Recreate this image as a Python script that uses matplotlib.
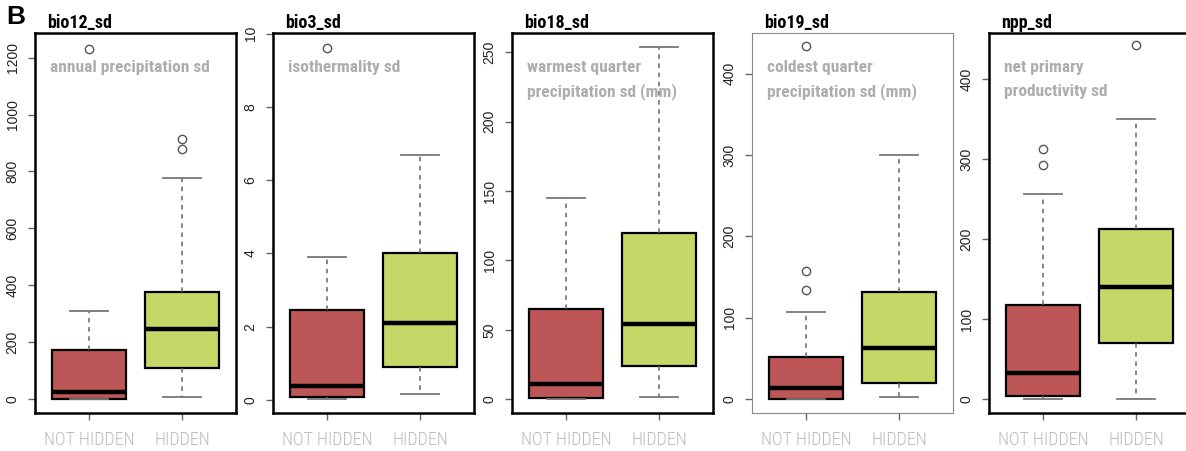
import numpy as np
import matplotlib.pyplot as plt

# Panel titles and grey notes
titles = ['bio12_sd', 'bio3_sd', 'bio18_sd', 'bio19_sd', 'npp_sd']
notes = [
    ['annual precipitation sd'],
    ['isothermality sd'],
    ['warmest quarter', 'precipitation sd (mm)'],
    ['coldest quarter', 'precipitation sd (mm)'],
    ['net primary', 'productivity sd'],
]
groups = ['NOT HIDDEN', 'HIDDEN']

# box stats: whislo, q1, median, q3, whishi
not_hidden = [
    [0, 1, 23, 173, 308],
    [0.02, 0.09, 0.38, 2.44, 3.89],
    [0, 0.7, 10.6, 64.8, 145.3],
    [0, 0, 14, 52, 107],
    [0, 4, 33, 117, 256],
]
hidden = [
    [7, 108, 247, 377, 776],
    [0.16, 0.89, 2.11, 4.0, 6.68],
    [1.4, 23.9, 54.5, 120, 253.8],
    [2, 20, 63, 132, 300],
    [0, 70, 140, 213, 350],
]
not_hidden_out = [[1232], [9.61], [], [134, 157, 434], [292, 312]]
hidden_out = [[880, 915], [], [], [], [442]]

yticks = [np.arange(0, 1201, 200), np.arange(0, 11, 2), np.arange(0, 251, 50),
          np.arange(0, 401, 100), np.arange(0, 401, 100)]
ylims = [(-50, 1287), (-0.36, 10.02), (-10, 264), (-17.3, 450), (-17.6, 457.6)]

colors = ['#BD5757', '#C5D766']
narrow = ['Roboto Condensed', 'Liberation Sans Narrow', 'Roboto']

W, H = 1186, 451
fig = plt.figure(figsize=(W / 100, H / 100), dpi=100)

lefts = [35, 273, 512, 752, 989]
for i in range(5):
    ax = fig.add_axes([lefts[i] / W, 38 / H, 201 / W, 380 / H])
    stats = []
    for s, out in [(not_hidden[i], not_hidden_out[i]), (hidden[i], hidden_out[i])]:
        stats.append(dict(whislo=s[0], q1=s[1], med=s[2], q3=s[3], whishi=s[4], fliers=out))
    bp = ax.bxp(stats, positions=[1, 2], widths=0.8, patch_artist=True, capwidths=0.4,
                boxprops=dict(linewidth=1.6, edgecolor='black'),
                medianprops=dict(color='black', linewidth=3.2, solid_capstyle='butt'),
                whiskerprops=dict(color='#666666', linestyle=(0, (3, 3)), linewidth=1.1),
                capprops=dict(color='#777777', linewidth=1.3),
                flierprops=dict(marker='o', markerfacecolor='none', markeredgecolor='#555555',
                                markersize=6, markeredgewidth=1))
    for patch, c in zip(bp['boxes'], colors):
        patch.set_facecolor(c)

    ax.set_xlim(0.42, 2.58)
    ax.set_ylim(*ylims[i])
    ax.set_yticks(yticks[i])
    ax.set_yticklabels([str(int(v)) for v in yticks[i]], rotation=90, va='center',
                       fontsize=10, family='Liberation Sans', color='#222222')
    ax.set_xticks([1, 2])
    ax.set_xticklabels(groups, fontsize=13, family=narrow, stretch='condensed',
                       fontweight='light', color='#BBBBBB')
    ax.tick_params(axis='y', length=5, width=1, color='#666666', pad=6)
    ax.tick_params(axis='x', length=5, width=1, color='#666666', pad=8)

    for sp in ax.spines.values():
        if i == 3:
            sp.set_linewidth(0.8)
            sp.set_color('#888888')
        else:
            sp.set_linewidth(1.8)
            sp.set_color('black')

    ax.annotate(titles[i], xy=(0, 1), xycoords='axes fraction', xytext=(9, 3.5),
                textcoords='offset points', va='baseline', ha='left',
                fontsize=13, fontweight='bold', family=narrow, stretch='condensed')
    for j, line in enumerate(notes[i]):
        ax.annotate(line, xy=(0, 1), xycoords='axes fraction', xytext=(11, -28 - 17.5 * j),
                    textcoords='offset points', va='baseline', ha='left',
                    fontsize=12.5, fontweight='bold', family=narrow, stretch='condensed',
                    color='#ADADAD')

fig.text(6 / W, 1 - 24 / H, 'B', fontsize=19, fontweight='bold', family='Liberation Sans',
         va='baseline', ha='left')

fig.savefig('out.png', dpi=100)
